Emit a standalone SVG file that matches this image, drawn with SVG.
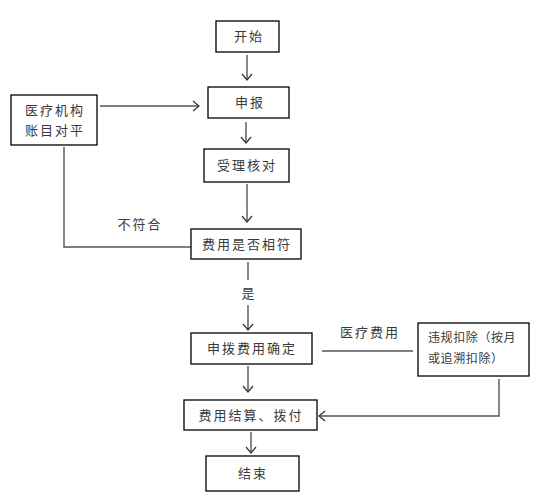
<svg xmlns="http://www.w3.org/2000/svg" width="540" height="496" viewBox="0 0 540 496">
<defs>
<style>
.box{fill:#fff;stroke:#000;stroke-width:1.3}
.t{font-family:"Noto Sans CJK SC","Liberation Sans",sans-serif;font-size:13px;fill:#3a3a3a;letter-spacing:2px}
.s{font-size:12px;letter-spacing:0.6px}
.c{fill:none;stroke:#555;stroke-width:1.4}
</style>
<marker id="a" markerUnits="userSpaceOnUse" markerWidth="12" markerHeight="12" refX="9" refY="6" orient="auto">
<path d="M3,1 L9,6 L3,11" fill="none" stroke="#333" stroke-width="1.2"/>
</marker>
</defs>
<rect width="540" height="496" fill="#fff"/>
<g id="connectors">
<line class="c" x1="247" y1="55" x2="247" y2="80" marker-end="url(#a)"/>
<line class="c" x1="100" y1="106" x2="199" y2="106" marker-end="url(#a)"/>
<line class="c" x1="246" y1="122" x2="246" y2="143" marker-end="url(#a)"/>
<line class="c" x1="247" y1="184" x2="247" y2="222" marker-end="url(#a)"/>
<polyline class="c" points="64,147 64,247 191,247"/>
<line class="c" x1="248" y1="262" x2="248" y2="280"/>
<line class="c" x1="248" y1="305" x2="248" y2="330" marker-end="url(#a)"/>
<line class="c" x1="248" y1="366" x2="248" y2="392" marker-end="url(#a)"/>
<line class="c" x1="322" y1="351" x2="413" y2="351"/>
<polyline class="c" points="499,379 499,416 319,416" marker-end="url(#a)"/>
<line class="c" x1="251" y1="432" x2="251" y2="453" marker-end="url(#a)"/>
<text class="t" x="140" y="229" text-anchor="middle">不符合</text>
<text class="t" x="249" y="298" text-anchor="middle">是</text>
<text class="t" x="370" y="337" text-anchor="middle" font-size="12">医疗费用</text>
</g>
<g id="start"><rect class="box" x="216" y="21" width="63" height="31"/><text class="t" x="249" y="41" text-anchor="middle">开始</text></g>
<g id="declare"><rect class="box" x="208" y="87" width="81" height="31"/><text class="t" x="250" y="107" text-anchor="middle">申报</text></g>
<g id="hospital"><rect class="box" x="11" y="95" width="86" height="50"/><text class="t" x="55" y="115" text-anchor="middle">医疗机构</text><text class="t" x="55" y="135" text-anchor="middle">账目对平</text></g>
<g id="check"><rect class="box" x="204" y="149" width="85" height="33"/><text class="t" x="247" y="170" text-anchor="middle">受理核对</text></g>
<g id="match"><rect class="box" x="191" y="229" width="110" height="30"/><text class="t" x="247" y="249" text-anchor="middle">费用是否相符</text></g>
<g id="confirm"><rect class="box" x="191" y="333" width="121" height="31"/><text class="t" x="252" y="353" text-anchor="middle">申拨费用确定</text></g>
<g id="deduct"><rect class="box" x="418" y="323" width="111" height="53"/><text class="t s" x="428" y="342">违规扣除（按月</text><text class="t s" x="428" y="363">或追溯扣除）</text></g>
<g id="settle"><rect class="box" x="184" y="400" width="133" height="30"/><text class="t" x="251" y="420" text-anchor="middle">费用结算、拨付</text></g>
<g id="end"><rect class="box" x="206" y="456" width="93" height="35"/><text class="t" x="253" y="478" text-anchor="middle">结束</text></g>
</svg>
